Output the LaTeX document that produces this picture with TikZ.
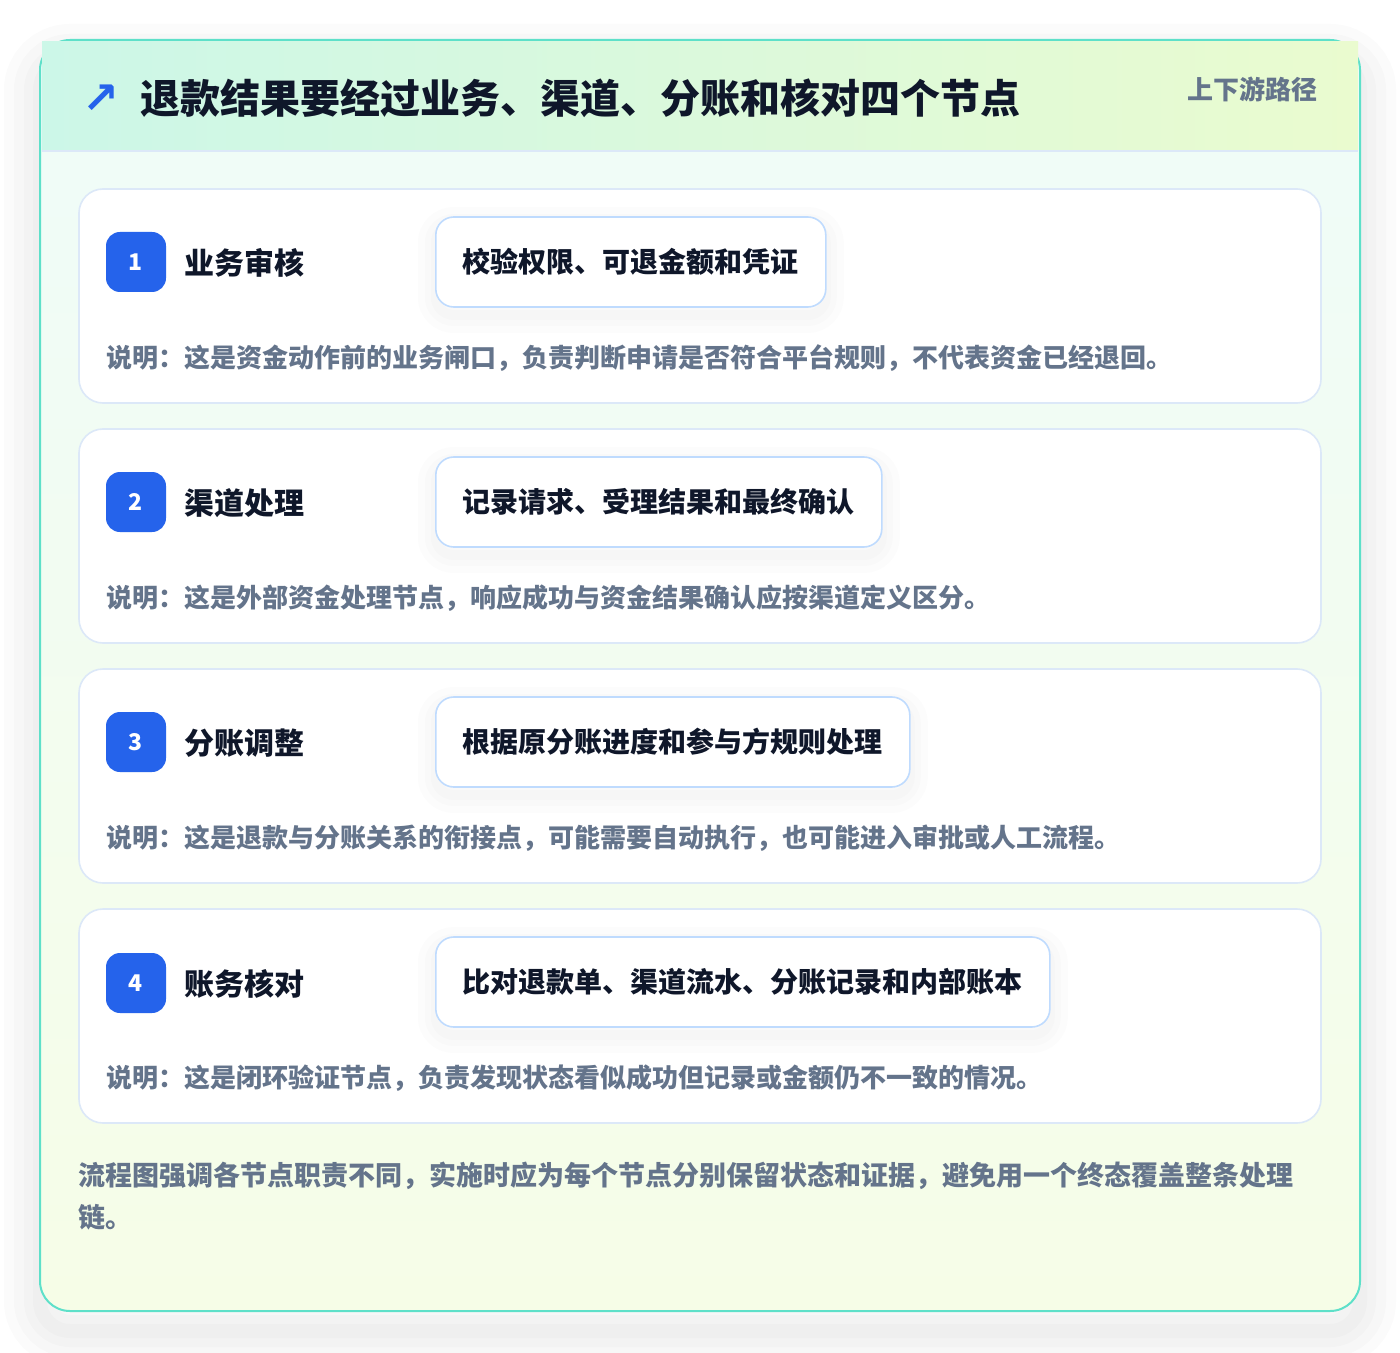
\documentclass[tikz,border=0pt]{standalone}
\usepackage{fontspec}
\setmainfont{Noto Sans CJK SC}
\newfontfamily\symfont{DejaVu Sans}
\definecolor{ink}{HTML}{0F172A}
\definecolor{slate}{HTML}{64748B}
\definecolor{badgeblue}{HTML}{2563EB}
\definecolor{panelline}{HTML}{5EE0C9}
\definecolor{cardline}{HTML}{DCE8F8}
\definecolor{pillline}{HTML}{BFDBFE}
\definecolor{headleft}{HTML}{CCF7E8}
\definecolor{headright}{HTML}{EAFBCF}
\definecolor{bodytop}{HTML}{EFFCF9}
\definecolor{bodybottom}{HTML}{F6FDE7}

\begin{document}
\begin{tikzpicture}[x=0.5pt, y=-0.5pt,
  glow/.style={preaction={draw=black, draw opacity=#1, line width=36pt, transform canvas={yshift=-10pt}},
    preaction={draw=black, draw opacity=#1, line width=26pt, transform canvas={yshift=-10pt}},
    preaction={draw=black, draw opacity=#1, line width=16pt, transform canvas={yshift=-10pt}},
    preaction={draw=black, draw opacity=#1, line width=7pt, transform canvas={yshift=-10pt}}},
  softglow/.style={preaction={draw=black, draw opacity=0.012, line width=18pt, transform canvas={yshift=-4pt}},
    preaction={draw=black, draw opacity=0.012, line width=11pt, transform canvas={yshift=-4pt}},
    preaction={draw=black, draw opacity=0.012, line width=5pt, transform canvas={yshift=-4pt}}},
  panel/.style={draw=panelline, line width=1pt, rounded corners=15pt,
    top color=bodytop, bottom color=bodybottom,
    minimum width=660pt, minimum height=635.5pt, glow=0.014},
  header/.style={left color=headleft, right color=headright, minimum width=658pt, minimum height=54.5pt, inner sep=0},
  stepcard/.style={draw=cardline, line width=0.8pt, fill=white, rounded corners=12pt,
    minimum width=621pt, minimum height=107pt},
  badge/.style={fill=badgeblue, rounded corners=7pt, minimum size=30pt, inner sep=0,
    text=white, font=\bfseries\fontsize{11.5}{13}\selectfont},
  steptitle/.style={anchor=west, inner sep=0, text=ink, font=\bfseries\fontsize{15}{18}\selectfont},
  pill/.style={draw=pillline, line width=0.8pt, fill=white, rounded corners=9pt, anchor=west,
    minimum height=45pt, inner xsep=13.5pt, text=ink, font=\bfseries\fontsize{14}{17}\selectfont, softglow},
  note/.style={anchor=west, inner sep=0, text=slate, font=\bfseries\fontsize{13}{16}\selectfont}]

  \useasboundingbox (0,0) rectangle (1400,1352);
  \fill[white] (0,0) rectangle (1400,1352);

  % frame and header
  \node[panel] (panel) at (700,675.5) {};
  \node[header] (head) at (700,96.5) {};
  \draw[cardline, line width=1pt] (head.south west) -- (head.south east);
  \node[text=badgeblue, font=\symfont\bfseries\fontsize{22}{22}\selectfont, inner sep=0] (icon) at (101,99) {↗};
  \node[anchor=west, inner sep=0, text=ink, font=\bfseries\fontsize{20}{24}\selectfont] (title) at (140,98)
    {退款结果要经过业务、渠道、分账和核对四个节点};
  \node[anchor=east, inner sep=0, text=slate, font=\bfseries\fontsize{13}{16}\selectfont] (tag) at (1318,89)
    {上下游路径};

  % step 1
  \node[stepcard] (c1) at (700,296) {};
  \node[badge] (b1) at (136,262) {1};
  \node[steptitle] (t1) at (184,263) {业务审核};
  \node[pill] (p1) at (435,262) {校验权限、可退金额和凭证};
  \node[note] (n1) at (106,358) {说明：这是资金动作前的业务闸口，负责判断申请是否符合平台规则，不代表资金已经退回。};

  % step 2
  \node[stepcard] (c2) at (700,536) {};
  \node[badge] (b2) at (136,502) {2};
  \node[steptitle] (t2) at (184,503) {渠道处理};
  \node[pill] (p2) at (435,502) {记录请求、受理结果和最终确认};
  \node[note] (n2) at (106,598) {说明：这是外部资金处理节点，响应成功与资金结果确认应按渠道定义区分。};

  % step 3
  \node[stepcard] (c3) at (700,776) {};
  \node[badge] (b3) at (136,742) {3};
  \node[steptitle] (t3) at (184,743) {分账调整};
  \node[pill] (p3) at (435,742) {根据原分账进度和参与方规则处理};
  \node[note] (n3) at (106,838) {说明：这是退款与分账关系的衔接点，可能需要自动执行，也可能进入审批或人工流程。};

  % step 4
  \node[stepcard] (c4) at (700,1016) {};
  \node[badge] (b4) at (136,983) {4};
  \node[steptitle] (t4) at (184,984) {账务核对};
  \node[pill] (p4) at (435,982) {比对退款单、渠道流水、分账记录和内部账本};
  \node[note] (n4) at (106,1078) {说明：这是闭环验证节点，负责发现状态看似成功但记录或金额仍不一致的情况。};

  % footer
  \node[anchor=west, inner sep=0, align=left, text=slate, font=\bfseries\fontsize{13.5}{21}\selectfont] (foot) at (78,1196)
    {流程图强调各节点职责不同，实施时应为每个节点分别保留状态和证据，避免用一个终态覆盖整条处理\\链。};
\end{tikzpicture}
\end{document}
